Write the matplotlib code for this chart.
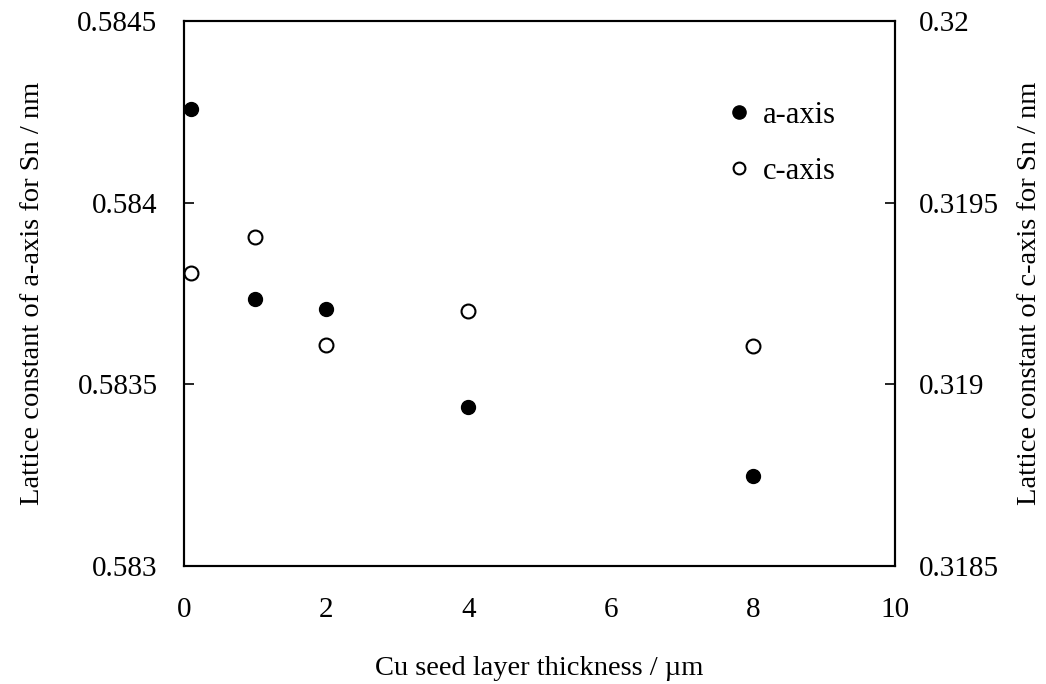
import matplotlib
matplotlib.use("Agg")
import matplotlib.pyplot as plt
from matplotlib.lines import Line2D

plt.rcParams['font.family'] = ['Liberation Serif', 'DejaVu Serif']

# Cu seed layer thickness (µm)
thickness = [0.1, 1, 2, 4, 8]
# Lattice constants of Sn (nm)
a_axis = [0.584257, 0.583736, 0.583706, 0.583438, 0.583248]
c_axis = [0.319307, 0.319406, 0.319108, 0.319203, 0.319106]

x_ticks = [0, 2, 4, 6, 8, 10]
a_ticks = [0.583, 0.5835, 0.584, 0.5845]
a_tick_labels = ['0.583', '0.5835', '0.584', '0.5845']
c_ticks = [0.3185, 0.319, 0.3195, 0.32]
c_tick_labels = ['0.3185', '0.319', '0.3195', '0.32']

fig = plt.figure(figsize=(10.46, 6.84), dpi=100)
ax = fig.add_axes([184 / 1046, 1 - 566 / 684, (895 - 184) / 1046, (566 - 21) / 684])
ax2 = ax.twinx()

tick_fs = 21
label_fs = 20.5
legend_fs = 22

ax.plot(thickness, a_axis, linestyle='none', marker='o', markersize=10,
        markerfacecolor='black', markeredgecolor='black', clip_on=False, zorder=5)
ax2.plot(thickness, c_axis, linestyle='none', marker='o', markersize=10,
         markerfacecolor='white', markeredgecolor='black', markeredgewidth=1.5,
         clip_on=False, zorder=5)

ax.set_xlim(0, 10)
ax.set_ylim(0.583, 0.5845)
ax2.set_ylim(0.3185, 0.32)

ax.set_xticks(x_ticks)
ax.set_xticklabels([str(t) for t in x_ticks], fontsize=tick_fs)
ax.set_yticks(a_ticks)
ax.set_yticklabels(a_tick_labels, fontsize=tick_fs)
ax2.set_yticks(c_ticks)
ax2.set_yticklabels(c_tick_labels, fontsize=tick_fs)

ax.tick_params(axis='x', length=0, pad=22)
ax.tick_params(axis='y', direction='in', length=7, width=1.2, pad=19)
ax2.tick_params(axis='y', direction='in', length=7, width=1.2, pad=17)

for a in (ax, ax2):
    for s in a.spines.values():
        s.set_linewidth(1.5)

ax.set_xlabel('Cu seed layer thickness / µm', fontsize=label_fs, labelpad=24)
ax.set_ylabel('Lattice constant of a-axis for Sn / nm', fontsize=label_fs, labelpad=23)
ax2.set_ylabel('Lattice constant of c-axis for Sn / nm', fontsize=label_fs, labelpad=13)

handles = [
    Line2D([], [], linestyle='none', marker='o', markersize=9.5,
           markerfacecolor='black', markeredgecolor='black'),
    Line2D([], [], linestyle='none', marker='o', markersize=8.5,
           markerfacecolor='white', markeredgecolor='black', markeredgewidth=1.5),
]
ax.legend(handles, ['a-axis', 'c-axis'], loc='upper left',
          bbox_to_anchor=(0.768, 0.853), frameon=False, fontsize=legend_fs,
          handlelength=0.6, handletextpad=0.46, labelspacing=0.87,
          borderaxespad=0, borderpad=0)

fig.savefig('out.png', dpi=100)
